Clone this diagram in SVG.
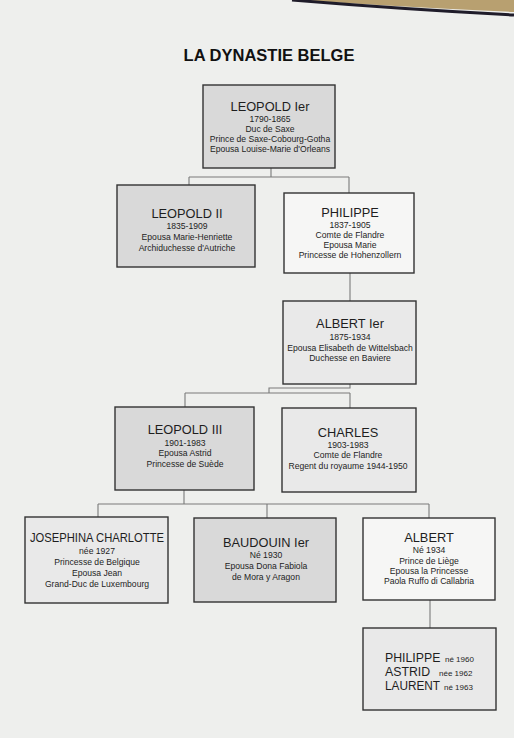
<svg xmlns="http://www.w3.org/2000/svg" width="514" height="738" viewBox="0 0 514 738">
<style>
.bg{fill:#eeefed}
.box{stroke:#333;stroke-width:1.4}
.g1{fill:#d9d9d9}
.g2{fill:#e9e9e9}
.g3{fill:#f6f6f5}
.conn{fill:none;stroke:#7a7a7a;stroke-width:1.1}
text{font-family:"Liberation Sans",Arial,sans-serif;fill:#1e1e1e;text-anchor:middle}
.name{font-size:12.8px}
.det{font-size:8.6px}
.title{font-size:16.5px;font-weight:bold;fill:#111}
.kid{font-size:12.3px;text-anchor:start}
.kd{font-size:8px;text-anchor:start}
</style>
<rect class="bg" x="0" y="0" width="514" height="738"/>
<path d="M300,0 Q400,7 514,12 L514,0 Z" fill="#b8a070"/>
<path d="M292,0 Q400,9 514,15" fill="none" stroke="#1f1c2a" stroke-width="3"/>
<text class="title" x="269" y="61">LA DYNASTIE BELGE</text>

<g id="connectors">
<path class="conn" d="M271,168 V177 M189,177 H349 M189,177 V185 M349,177 V193"/>
<path class="conn" d="M350,273 V301"/>
<path class="conn" d="M350,384 V388 H269 V393 M185,393 H350 M185,393 V407 M350,393 V408"/>
<path class="conn" d="M184,490 V504 M98,504 H429 M98,504 V517 M267,504 V518 M429,504 V518"/>
<path class="conn" d="M430,600 V628"/>
</g>

<g id="leopold1">
<rect class="box g1" x="203" y="85" width="132" height="83"/>
<text class="name" x="270" y="111">LEOPOLD Ier</text>
<text class="det" x="270" y="122">1790-1865</text>
<text class="det" x="270" y="132">Duc de Saxe</text>
<text class="det" x="270" y="142">Prince de Saxe-Cobourg-Gotha</text>
<text class="det" x="270" y="152">Epousa Louise-Marie d'Orleans</text>
</g>

<g id="leopold2">
<rect class="box g1" x="117" y="185" width="138" height="82"/>
<text class="name" x="187" y="218">LEOPOLD II</text>
<text class="det" x="187" y="229">1835-1909</text>
<text class="det" x="187" y="240">Epousa Marie-Henriette</text>
<text class="det" x="187" y="251">Archiduchesse d'Autriche</text>
</g>

<g id="philippe">
<rect class="box g3" x="284" y="193" width="130" height="80"/>
<text class="name" x="350" y="217">PHILIPPE</text>
<text class="det" x="350" y="228">1837-1905</text>
<text class="det" x="350" y="238">Comte de Flandre</text>
<text class="det" x="350" y="248">Epousa Marie</text>
<text class="det" x="350" y="258">Princesse de Hohenzollern</text>
</g>

<g id="albert1">
<rect class="box g2" x="283" y="301" width="133" height="83"/>
<text class="name" x="350" y="328">ALBERT Ier</text>
<text class="det" x="350" y="340">1875-1934</text>
<text class="det" x="350" y="351">Epousa Elisabeth de Wittelsbach</text>
<text class="det" x="350" y="361">Duchesse en Baviere</text>
</g>

<g id="leopold3">
<rect class="box g1" x="115" y="407" width="139" height="83"/>
<text class="name" x="185" y="434">LEOPOLD III</text>
<text class="det" x="185" y="446">1901-1983</text>
<text class="det" x="185" y="456">Epousa Astrid</text>
<text class="det" x="185" y="467">Princesse de Suède</text>
</g>

<g id="charles">
<rect class="box g2" x="282" y="408" width="134" height="84"/>
<text class="name" x="348" y="437">CHARLES</text>
<text class="det" x="348" y="448">1903-1983</text>
<text class="det" x="348" y="458">Comte de Flandre</text>
<text class="det" x="348" y="469">Regent du royaume 1944-1950</text>
</g>

<g id="josephina">
<rect class="box g2" x="25" y="517" width="143" height="86"/>
<text class="name" x="97" y="542" textLength="134" lengthAdjust="spacingAndGlyphs">JOSEPHINA CHARLOTTE</text>
<text class="det" x="97" y="554">née 1927</text>
<text class="det" x="97" y="565">Princesse de Belgique</text>
<text class="det" x="97" y="576">Epousa Jean</text>
<text class="det" x="97" y="587">Grand-Duc de Luxembourg</text>
</g>

<g id="baudouin">
<rect class="box g1" x="194" y="518" width="142" height="84"/>
<text class="name" x="266" y="547">BAUDOUIN Ier</text>
<text class="det" x="266" y="558">Né 1930</text>
<text class="det" x="266" y="569">Epousa Dona Fabiola</text>
<text class="det" x="266" y="580">de Mora y Aragon</text>
</g>

<g id="albert">
<rect class="box g3" x="363" y="518" width="132" height="82"/>
<text class="name" x="429" y="542">ALBERT</text>
<text class="det" x="429" y="553">Né 1934</text>
<text class="det" x="429" y="564">Prince de Liège</text>
<text class="det" x="429" y="574">Epousa la Princesse</text>
<text class="det" x="429" y="584">Paola Ruffo di Callabria</text>
</g>

<g id="enfants">
<rect class="box g2" x="363" y="628" width="133" height="82"/>
<text class="kid" x="385" y="662">PHILIPPE</text>
<text class="kd" x="445" y="662">né 1960</text>
<text class="kid" x="385" y="676">ASTRID</text>
<text class="kd" x="439" y="676">née 1962</text>
<text class="kid" x="385" y="690" textLength="55" lengthAdjust="spacingAndGlyphs">LAURENT</text>
<text class="kd" x="444" y="690">né 1963</text>
</g>
</svg>
